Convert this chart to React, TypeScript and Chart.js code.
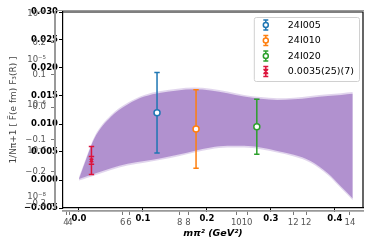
import React, { useEffect, useRef } from 'react';
import { Chart, registerables } from 'chart.js';
Chart.register(...registerables);

// ---- data ----
const seriesLabels = ['24I005', '24I010', '24I020', '0.0035(25)(7)'];
const seriesColors = ['#1f77b4', '#ff7f0e', '#2ca02c', '#dc143c'];
const seriesX = [0.122, 0.183, 0.278, 0.0195];
const seriesY = [0.0120, 0.0091, 0.0095, 0.0035];
const seriesErr = [0.0072, 0.0070, 0.0049, 0.0025];
const seriesSysErr = [0, 0, 0, 0.0007];

const bandX = [0, 0.0135, 0.024, 0.05, 0.076, 0.102, 0.128, 0.154, 0.18, 0.206, 0.232, 0.258, 0.284, 0.31, 0.336, 0.362, 0.389, 0.41, 0.428];
const bandUpper = [0.0002, 0.0044, 0.0074, 0.0113, 0.0135, 0.0149, 0.0156, 0.0160, 0.0162, 0.0160, 0.0155, 0.0149, 0.0145, 0.0143, 0.0144, 0.0147, 0.0150, 0.0152, 0.0154];
const bandLower = [0.0002, 0.0007, 0.0011, 0.0021, 0.0029, 0.0034, 0.0039, 0.0045, 0.0052, 0.0058, 0.0061, 0.0061, 0.0058, 0.0052, 0.0045, 0.0034, 0.0012, -0.0012, -0.0033];
const bandRim = 0.0003;

const yTicks = [-0.005, 0, 0.005, 0.01, 0.015, 0.02, 0.025, 0.03];
const xTicks = [0, 0.1, 0.2, 0.3, 0.4];
const ghostYTicks = [0.2, 0.1, 0.0, -0.1, -0.2, -0.3];
const ghostLogTicks = [1e-4, 1e-5, 1e-6, 1e-7, 1e-8];
const ghostXTicks = [4, 6, 8, 10, 12, 14];

const FONT = 'DejaVu Sans';

const fmt = (v: number, d: number) => (v < 0 ? '\u2212' : '') + Math.abs(v).toFixed(d);
const supMap: Record<string, string> = { '-': '\u207B', '0': '\u2070', '1': '\u00B9', '2': '\u00B2', '3': '\u00B3', '4': '\u2074', '5': '\u2075', '6': '\u2076', '7': '\u2077', '8': '\u2078', '9': '\u2079' };
const logLabel = (v: number) => '10' + String(Math.round(Math.log10(v))).split('').map((c) => supMap[c] || c).join('');

// force an axis box size while letting its labels overflow (no label clipping)
const forceSize = (dim: 'width' | 'height', n: number) => (s: any) => {
  s[dim] = n;
  s._computeLabelArea = () => undefined;
};

const errorBarPlugin = {
  id: 'errbars',
  beforeDatasetDraw(chart: any, args: any) {
    const ds = chart.data.datasets[args.index];
    if (ds.seriesIndex === undefined) return;
    const i = ds.seriesIndex;
    const xs = chart.scales.x, ys = chart.scales.y, ctx = chart.ctx;
    const px = xs.getPixelForValue(seriesX[i]);
    const top = ys.getPixelForValue(seriesY[i] + seriesErr[i]);
    const bot = ys.getPixelForValue(seriesY[i] - seriesErr[i]);
    const cw = 2.7;
    ctx.save();
    ctx.strokeStyle = seriesColors[i];
    ctx.lineWidth = 1.5;
    ctx.beginPath();
    ctx.moveTo(px, top); ctx.lineTo(px, bot);
    ctx.moveTo(px - cw, top); ctx.lineTo(px + cw, top);
    ctx.moveTo(px - cw, bot); ctx.lineTo(px + cw, bot);
    if (seriesSysErr[i] > 0) {
      const t2 = ys.getPixelForValue(seriesY[i] + seriesSysErr[i]);
      const b2 = ys.getPixelForValue(seriesY[i] - seriesSysErr[i]);
      ctx.moveTo(px - cw, t2); ctx.lineTo(px + cw, t2);
      ctx.moveTo(px - cw, b2); ctx.lineTo(px + cw, b2);
    }
    ctx.stroke();
    ctx.restore();
  },
};

const framePlugin = {
  id: 'frame',
  afterDraw(chart: any) {
    const { ctx, chartArea: a } = chart;
    ctx.save();
    ctx.strokeStyle = '#999';
    ctx.lineWidth = 1;
    ctx.beginPath();
    ctx.moveTo(a.left - 8, a.top - 1.5); ctx.lineTo(a.right + 1, a.top - 1.5);
    ctx.stroke();
    ctx.strokeStyle = '#000';
    ctx.lineWidth = 1.2;
    ctx.beginPath();
    ctx.moveTo(a.left, a.top); ctx.lineTo(a.right, a.top); ctx.lineTo(a.right, a.bottom);
    ctx.stroke();
    ctx.restore();
  },
};

const legendPlugin = {
  id: 'customLegend',
  afterDraw(chart: any) {
    const { ctx, chartArea: a } = chart;
    ctx.save();
    ctx.font = `9.5px "${FONT}"`;
    const tw = Math.max(...seriesLabels.map((s) => ctx.measureText(s).width));
    const w = 34 + tw + 5;
    const rowH = 15.5;
    const h = rowH * seriesLabels.length + 2;
    const x0 = a.right - 4 - w;
    const y0 = a.top + 5;
    ctx.fillStyle = 'rgba(255,255,255,0.85)';
    ctx.strokeStyle = '#d0d0d0';
    ctx.lineWidth = 1;
    ctx.beginPath();
    (ctx as any).roundRect ? (ctx as any).roundRect(x0 + 0.5, y0 + 0.5, w, h, 2) : ctx.rect(x0 + 0.5, y0 + 0.5, w, h);
    ctx.fill();
    ctx.stroke();
    seriesLabels.forEach((lab, i) => {
      const cy = y0 + 8 + i * rowH;
      const ix = x0 + 12;
      const c = seriesColors[i];
      ctx.strokeStyle = c;
      ctx.lineWidth = 1.5;
      ctx.beginPath();
      ctx.moveTo(ix, cy - 5); ctx.lineTo(ix, cy + 5);
      ctx.moveTo(ix - 2.5, cy - 5); ctx.lineTo(ix + 2.5, cy - 5);
      ctx.moveTo(ix - 2.5, cy + 5); ctx.lineTo(ix + 2.5, cy + 5);
      if (seriesSysErr[i] > 0) {
        ctx.moveTo(ix - 2.5, cy - 2); ctx.lineTo(ix + 2.5, cy - 2);
        ctx.moveTo(ix - 2.5, cy + 2); ctx.lineTo(ix + 2.5, cy + 2);
        ctx.moveTo(ix - 2, cy - 2); ctx.lineTo(ix + 2, cy + 2);
        ctx.moveTo(ix + 2, cy - 2); ctx.lineTo(ix - 2, cy + 2);
        ctx.stroke();
      } else {
        ctx.stroke();
        ctx.beginPath();
        ctx.fillStyle = '#fff';
        ctx.arc(ix, cy, 2.5, 0, Math.PI * 2);
        ctx.fill();
        ctx.stroke();
      }
      ctx.fillStyle = '#000';
      ctx.textAlign = 'left';
      ctx.textBaseline = 'middle';
      ctx.fillText(lab, x0 + 34, cy + 0.5);
    });
    ctx.restore();
  },
};

export default function App() {
  const ref = useRef<HTMLCanvasElement | null>(null);
  useEffect(() => {
    if (!ref.current) return;
    Chart.defaults.font.family = FONT;
    const pts = (ys: number[], off: number) => bandX.map((x, k) => ({ x, y: ys[k] + off }));
    const bandStyle = { xAxisID: 'x', yAxisID: 'y', showLine: true, pointRadius: 0, borderWidth: 0, borderColor: 'rgba(0,0,0,0)', cubicInterpolationMode: 'monotone' };
    const datasets: any[] = [
      { ...bandStyle, label: 'outerU', data: pts(bandUpper, bandRim), fill: false, order: 12 },
      { ...bandStyle, label: 'outerL', data: pts(bandLower, -bandRim), fill: '-1', backgroundColor: 'rgba(148,103,189,0.28)', order: 12 },
      { ...bandStyle, label: 'innerU', data: pts(bandUpper, 0), fill: false, order: 11 },
      { ...bandStyle, label: 'innerL', data: pts(bandLower, 0), fill: '-1', backgroundColor: 'rgba(148,103,189,0.62)', order: 11 },
      ...seriesLabels.map((lab, i) => ({
        label: lab,
        xAxisID: 'x',
        yAxisID: 'y',
        seriesIndex: i,
        data: [{ x: seriesX[i], y: seriesY[i] }],
        showLine: false,
        order: 0,
        pointStyle: seriesSysErr[i] > 0 ? 'crossRot' : 'circle',
        pointRadius: seriesSysErr[i] > 0 ? 2.5 : 3,
        pointBorderWidth: 1.5,
        pointBorderColor: seriesColors[i],
        pointBackgroundColor: '#fff',
      })),
    ];
    const ghostTickFont = { size: 8.5, family: FONT };
    const chart = new Chart(ref.current, {
      type: 'scatter',
      data: { datasets },
      plugins: [errorBarPlugin, framePlugin, legendPlugin],
      options: {
        animation: false,
        responsive: false,
        layout: { padding: { top: 12, right: 11, left: 0, bottom: 0 } },
        plugins: { legend: { display: false }, tooltip: { enabled: false } },
        scales: {
          x: {
            type: 'linear', position: 'bottom', weight: 1, min: -0.025, max: 0.444,
            afterFit: forceSize('height', 3),
            afterBuildTicks: (s: any) => { s.ticks = xTicks.map((v) => ({ value: v })); },
            ticks: { autoSkip: false, maxRotation: 0, padding: 2, color: '#000', font: { size: 8.5, weight: 'bold', family: FONT }, callback: (v: any) => fmt(Number(v), 1) },
            grid: { drawOnChartArea: false, tickLength: 4, color: '#000' },
            border: { color: '#000', width: 1.2 },
          },
          y: {
            type: 'linear', position: 'left', weight: 1, min: -0.005, max: 0.030,
            afterFit: forceSize('width', 8),
            afterBuildTicks: (s: any) => { s.ticks = yTicks.map((v) => ({ value: v })); },
            ticks: { autoSkip: false, padding: 1, color: '#000', font: { size: 8.5, weight: 'bold', family: FONT }, callback: (v: any) => fmt(Number(v), 3) },
            grid: { drawOnChartArea: false, tickLength: 4, color: '#000' },
            border: { color: '#000', width: 1.2 },
          },
          xg2: {
            type: 'linear', position: 'bottom', weight: 10, min: 3.763, max: 13.93,
            afterFit: forceSize('height', 38),
            afterBuildTicks: (s: any) => { s.ticks = ghostXTicks.filter((v) => v <= 13.93).map((v) => ({ value: v })); },
            ticks: { autoSkip: false, maxRotation: 0, padding: 2.5, color: '#555', font: ghostTickFont },
            grid: { drawOnChartArea: false, tickLength: 4, color: '#777' },
            border: { color: '#999', width: 1.5 },
            title: { display: true, text: 'm\u03C0\u00B2 (GeV\u00B2)', color: '#000', font: { size: 9.5, weight: 'bold', style: 'italic', family: FONT }, padding: { top: 0, bottom: 10 } },
          },
          xg1: {
            type: 'linear', position: 'bottom', weight: 5, min: 3.894, max: 14.46,
            afterFit: forceSize('height', 0),
            afterBuildTicks: (s: any) => { s.ticks = ghostXTicks.map((v) => ({ value: v })); },
            ticks: { autoSkip: false, maxRotation: 0, padding: 2.5, color: '#555', font: ghostTickFont },
            grid: { drawOnChartArea: false, tickLength: 4, color: '#777' },
            border: { color: '#999', width: 1.5 },
          },
          yg: {
            type: 'linear', position: 'left', weight: 10, min: -0.3126, max: 0.295,
            afterFit: forceSize('width', 55),
            afterBuildTicks: (s: any) => { s.ticks = ghostYTicks.map((v) => ({ value: v })); },
            ticks: { autoSkip: false, padding: 5, color: '#555', font: ghostTickFont, callback: (v: any) => fmt(Number(v), 1) },
            grid: { drawOnChartArea: false, tickLength: 4, color: '#777' },
            border: { color: '#999', width: 2 },
            title: { display: true, text: '1/N\u03C0+1 [ F\u0303(e fm) F\u2083(R) ]', color: '#444', font: { size: 9, family: FONT }, padding: { top: 8, bottom: 0 } },
          },
          ylog: {
            type: 'logarithmic', position: 'left', weight: 5, min: 5.66e-9, max: 1.08e-4,
            afterFit: forceSize('width', 0),
            afterBuildTicks: (s: any) => { s.ticks = ghostLogTicks.map((v) => ({ value: v })); },
            ticks: { autoSkip: false, padding: 5, color: '#555', font: ghostTickFont, callback: (v: any) => logLabel(Number(v)) },
            grid: { drawOnChartArea: false, tickLength: 4, color: 'rgba(0,0,0,0)' },
            border: { display: false },
          },
        },
      } as any,
    });
    return () => chart.destroy();
  }, []);
  return (
    <div style={{ position: 'absolute', left: 0, top: 0, width: 374, height: 249, background: '#fff' }}>
      <canvas ref={ref} width={374} height={249} style={{ width: 374, height: 249, display: 'block' }} />
    </div>
  );
}
